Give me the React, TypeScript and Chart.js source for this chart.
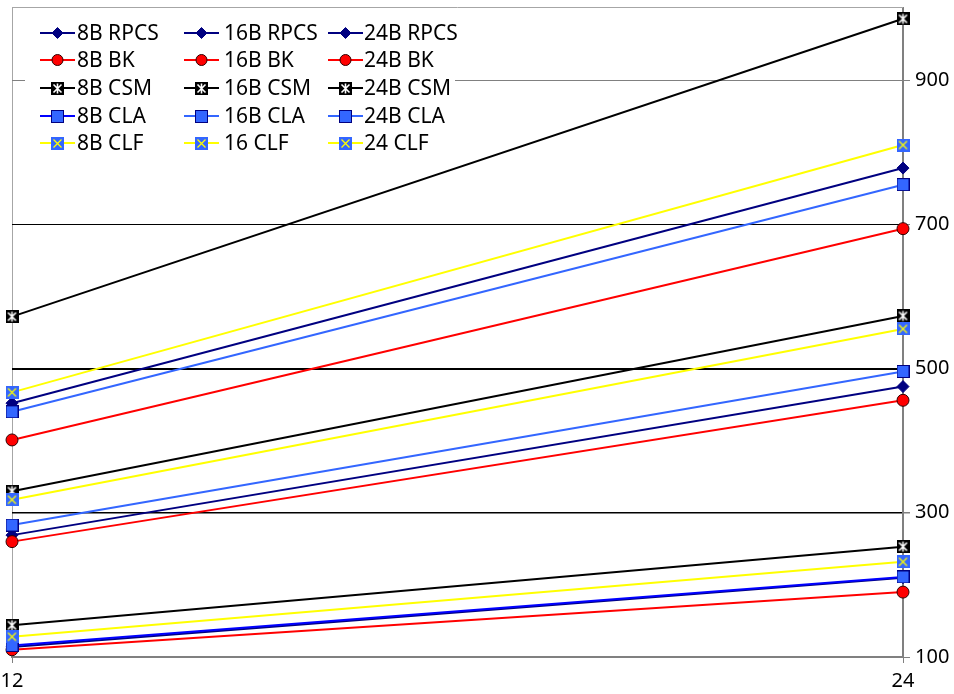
import React, { useEffect, useRef } from 'react';
import { Chart, registerables } from 'chart.js';

Chart.register(...registerables);

const categories = ['12', '24'];
const yTicks = [100, 300, 500, 700, 900];

const rpcs8 = [114, 210];
const rpcs16 = [269, 475];
const rpcs24 = [452, 778];
const bk8 = [110, 190];
const bk16 = [260, 456];
const bk24 = [401, 694];
const csm8 = [144, 253];
const csm16 = [330, 573];
const csm24 = [572, 985];
const cla8 = [116, 211];
const cla16 = [283, 496];
const cla24 = [440, 755];
const clf8 = [128, 232];
const clf16 = [318, 555];
const clf24 = [467, 810];

const FONT = 'Noto Sans';

function makeSquare(fill: string, border: string | null, cross: string | null, vertical: boolean) {
  const c = document.createElement('canvas');
  c.width = 13;
  c.height = 13;
  const g = c.getContext('2d')!;
  g.fillStyle = fill;
  g.fillRect(0, 0, 13, 13);
  if (border) {
    g.strokeStyle = border;
    g.lineWidth = 1;
    g.strokeRect(0.5, 0.5, 12, 12);
  }
  if (cross) {
    g.strokeStyle = cross;
    g.lineWidth = vertical ? 1.6 : 1.3;
    g.beginPath();
    g.moveTo(2.5, 2.5);
    g.lineTo(10.5, 10.5);
    g.moveTo(10.5, 2.5);
    g.lineTo(2.5, 10.5);
    if (vertical) {
      g.moveTo(6.5, 1.5);
      g.lineTo(6.5, 11.5);
    }
    g.stroke();
  }
  return c;
}

function drawMarker(ctx: CanvasRenderingContext2D, style: any, x: number, y: number, fill: string, stroke: string, r: number) {
  if (style instanceof HTMLCanvasElement) {
    ctx.drawImage(style, Math.round(x - style.width / 2), Math.round(y - style.height / 2));
    return;
  }
  ctx.beginPath();
  if (style === 'circle') {
    ctx.arc(x, y, r, 0, Math.PI * 2);
  } else {
    ctx.moveTo(x - r, y);
    ctx.lineTo(x, y - r);
    ctx.lineTo(x + r, y);
    ctx.lineTo(x, y + r);
    ctx.closePath();
  }
  ctx.fillStyle = fill;
  ctx.fill();
  ctx.strokeStyle = stroke;
  ctx.lineWidth = 1;
  ctx.stroke();
}

export default function App() {
  const ref = useRef<HTMLCanvasElement>(null);

  useEffect(() => {
    const csmImg = makeSquare('#000000', null, '#ffffff', true);
    const claImg = makeSquare('#3366ff', '#000080', null, false);
    const clfImg = makeSquare('#3366ff', null, '#ffff00', false);

    const rpcs = { borderColor: '#000080', pointStyle: 'rectRot', pointRadius: 6, pointBackgroundColor: '#000080', pointBorderColor: '#000080' };
    const bk = { borderColor: '#ff0000', pointStyle: 'circle', pointRadius: 6, pointBackgroundColor: '#ff0000', pointBorderColor: '#300000' };
    const csm = { borderColor: '#000000', pointStyle: csmImg, pointRadius: 6, pointBackgroundColor: '#000', pointBorderColor: '#000' };
    const cla = { borderColor: '#3366ff', pointStyle: claImg, pointRadius: 6, pointBackgroundColor: '#3366ff', pointBorderColor: '#000080' };
    const clf = { borderColor: '#ffff00', pointStyle: clfImg, pointRadius: 6, pointBackgroundColor: '#3366ff', pointBorderColor: '#3366ff' };

    const defs: [string, number[], any][] = [
      ['8B RPCS', rpcs8, rpcs],
      ['16B RPCS', rpcs16, rpcs],
      ['24B RPCS', rpcs24, rpcs],
      ['8B BK', bk8, bk],
      ['16B BK', bk16, bk],
      ['24B BK', bk24, bk],
      ['8B CSM', csm8, csm],
      ['16B CSM', csm16, csm],
      ['24B CSM', csm24, csm],
      ['8B CLA', cla8, { ...cla, borderColor: '#0000ff' }],
      ['16B CLA', cla16, cla],
      ['24B CLA', cla24, cla],
      ['8B CLF', clf8, clf],
      ['16 CLF', clf16, clf],
      ['24 CLF', clf24, clf],
    ];
    const n = defs.length;
    const datasets = defs.map(([label, data, st], i) => ({
      label,
      data,
      ...st,
      pointBorderWidth: 1,
      borderWidth: 2,
      tension: 0,
      clip: false,
      order: n - i,
    }));

    const framePlugin = {
      id: 'frame',
      beforeDatasetsDraw(chart: any) {
        const { ctx, chartArea: a } = chart;
        ctx.save();
        ctx.strokeStyle = '#a6a6a6';
        ctx.lineWidth = 1;
        ctx.beginPath();
        ctx.moveTo(a.left, a.top - 0.5);
        ctx.lineTo(a.right, a.top - 0.5);
        ctx.stroke();
        ctx.restore();
      },
      afterDraw(chart: any) {
        const ctx: CanvasRenderingContext2D = chart.ctx;
        const lineX = [40, 184, 328];
        const textX = [77, 224, 364];
        const rowY = [33, 60, 88, 116, 143];
        ctx.save();
        ctx.fillStyle = '#ffffff';
        ctx.fillRect(25, 9, 430, 148);
        chart.data.datasets.forEach((ds: any, i: number) => {
          const col = i % 3;
          const row = Math.floor(i / 3);
          const x0 = lineX[col];
          const y = rowY[row];
          ctx.strokeStyle = ds.borderColor;
          ctx.lineWidth = 2;
          ctx.beginPath();
          ctx.moveTo(x0, y);
          ctx.lineTo(x0 + 35, y);
          ctx.stroke();
          drawMarker(ctx, ds.pointStyle, x0 + 17.5, y, ds.pointBackgroundColor, ds.pointBorderColor, 5.5);
          ctx.fillStyle = '#000000';
          ctx.font = `21px "${FONT}"`;
          ctx.textBaseline = 'middle';
          ctx.textAlign = 'left';
          ctx.fillText(ds.label, textX[col], y + 1);
        });
        ctx.restore();
      },
    };

    const noPad = (s: any) => {
      s.paddingTop = 0;
      s.paddingBottom = 0;
      s.paddingLeft = 0;
      s.paddingRight = 0;
    };

    const chart = new Chart(ref.current!, {
      type: 'line',
      data: { labels: categories, datasets: datasets as any },
      options: {
        animation: false,
        responsive: true,
        maintainAspectRatio: false,
        layout: { padding: { left: 12, top: 8, right: 0, bottom: 0 } },
        plugins: { legend: { display: false }, tooltip: { enabled: false } },
        scales: {
          x: {
            type: 'category',
            offset: false,
            grid: { color: '#a6a6a6', lineWidth: 1, tickLength: 6, tickColor: '#808080' },
            border: { color: '#808080', width: 2 },
            ticks: { color: '#000', font: { family: FONT, size: 20 }, padding: 6, maxRotation: 0, autoSkip: false },
            afterFit: (s: any) => { s.height = 37; noPad(s); },
          },
          y: {
            position: 'right',
            min: 100,
            max: 1000,
            afterBuildTicks: (s: any) => { s.ticks = yTicks.map((v) => ({ value: v })); },
            grid: {
              color: (c: any) => {
                const v = c.tick && c.tick.value;
                if (v === 100) return 'rgba(0,0,0,0)';
                if (v === 900) return '#808080';
                return '#000000';
              },
              lineWidth: (c: any) => {
                const v = c.tick && c.tick.value;
                if (v === 500) return 2;
                if (v === 300) return 1.5;
                return 1;
              },
              tickLength: 7,
              tickColor: '#808080',
            },
            border: { color: '#808080', width: 2 },
            ticks: { color: '#000', font: { family: FONT, size: 20 }, padding: 5 },
            afterFit: (s: any) => { s.width = 51; noPad(s); },
          },
        },
      },
      plugins: [framePlugin],
    } as any);
    return () => chart.destroy();
  }, []);

  return (
    <div style={{ position: 'fixed', left: 0, top: 0, width: 954, height: 694, background: '#ffffff' }}>
      <canvas ref={ref} />
    </div>
  );
}
